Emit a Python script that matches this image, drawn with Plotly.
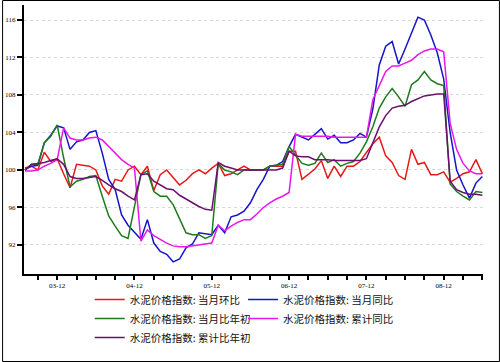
import plotly.graph_objects as go

MONTHS = [
    "03-07", "03-08", "03-09", "03-10", "03-11", "03-12",
    "04-01", "04-02", "04-03", "04-04", "04-05", "04-06", "04-07", "04-08", "04-09", "04-10", "04-11", "04-12",
    "05-01", "05-02", "05-03", "05-04", "05-05", "05-06", "05-07", "05-08", "05-09", "05-10", "05-11", "05-12",
    "06-01", "06-02", "06-03", "06-04", "06-05", "06-06", "06-07", "06-08", "06-09", "06-10", "06-11", "06-12",
    "07-01", "07-02", "07-03", "07-04", "07-05", "07-06", "07-07", "07-08", "07-09", "07-10", "07-11", "07-12",
    "08-01", "08-02", "08-03", "08-04", "08-05", "08-06", "08-07", "08-08", "08-09", "08-10", "08-11", "08-12",
    "09-01", "09-02", "09-03", "09-04", "09-05", "09-06",
]

SERIES_NAMES = [
    "水泥价格指数: 当月环比",
    "水泥价格指数: 当月同比",
    "水泥价格指数: 当月比年初",
    "水泥价格指数: 累计同比",
    "水泥价格指数: 累计比年初",
]

MOM = [100.2, 100.4, 100.0, 101.9, 100.9, 101.2, 99.6, 98.1, 100.6, 100.5, 100.4, 100.0,
       98.3, 97.4, 99.0, 98.8, 100.0, 100.4, 99.5, 100.4, 97.8, 99.5, 100.0, 99.2,
       98.4, 98.9, 99.6, 100.0, 99.6, 100.2, 100.7, 99.4, 99.6, 100.0, 100.4, 100.0,
       100.0, 100.0, 100.4, 100.4, 100.4, 102.0, 102.0, 99.0, 99.6, 100.1, 101.0, 99.1,
       100.4, 99.3, 100.4, 100.4, 100.9, 101.9, 102.8, 103.5, 101.5, 100.8, 99.4, 99.0,
       102.2, 100.6, 100.8, 99.5, 99.5, 99.8, 98.7, 99.1, 99.6, 99.8, 101.1, 99.6]

YOY = [100.0, 100.4, 100.5, 102.9, 103.7, 104.7, 104.5, 102.2, 103.0, 103.2, 104.0, 104.2,
       101.8, 99.0, 97.9, 95.2, 94.1, 93.4, 92.6, 94.7, 92.2, 91.3, 91.0, 90.2,
       90.5, 91.7, 92.1, 93.3, 93.2, 93.1, 94.1, 93.3, 95.0, 95.2, 95.6, 96.5,
       97.9, 99.0, 100.4, 100.5, 100.9, 102.5, 103.8, 103.5, 103.2, 103.8, 104.4, 103.3,
       103.7, 102.9, 102.9, 103.2, 103.9, 103.5, 106.5, 111.2, 113.2, 113.7, 111.3, 112.9,
       114.6, 116.3, 116.0, 114.4, 112.5, 109.7, 104.0, 100.0, 98.4, 97.0, 98.6, 99.3]

MTD = [100.0, 100.6, 100.6, 102.9, 103.6, 104.8, 101.3, 98.2, 98.8, 99.0, 99.3, 99.4,
       97.2, 95.1, 94.0, 93.0, 92.7, 96.3, 99.5, 99.9, 97.7, 97.2, 97.2, 96.3,
       94.7, 93.3, 93.1, 93.1, 92.7, 93.0, 100.7, 100.0, 99.8, 99.5, 100.0, 100.0,
       100.0, 100.0, 100.4, 100.5, 100.6, 102.5, 101.6, 100.7, 100.5, 100.7, 101.8, 100.8,
       101.1, 100.4, 100.7, 100.9, 101.8, 103.0, 104.6, 106.6, 107.8, 108.7, 107.8, 106.8,
       109.1, 109.6, 110.5, 109.6, 109.2, 109.0, 98.5, 97.7, 97.2, 96.8, 97.7, 97.6]

CUM_YOY = [99.9, 99.9, 100.0, 100.4, 100.7, 101.1, 104.5, 103.4, 103.2, 103.2, 103.4, 103.5,
           103.2, 102.5, 101.8, 101.1, 100.6, 100.2, 92.4, 93.6, 93.0, 92.6, 92.2, 91.9,
           91.8, 91.8, 91.9, 92.0, 92.1, 92.2, 94.1, 93.5, 94.0, 94.4, 94.7, 94.7,
           95.3, 96.0, 96.5, 96.9, 97.2, 97.6, 103.8, 103.6, 103.6, 103.6, 103.6, 103.6,
           103.5, 103.5, 103.5, 103.5, 103.5, 103.5, 107.5, 109.1, 110.5, 111.1, 111.1, 111.4,
           111.7, 112.3, 112.7, 112.9, 112.9, 112.6, 105.0, 102.2, 100.7, 99.9, 99.6, 99.6]

CUM_YTD = [100.0, 100.6, 100.7, 100.8, 101.0, 101.2, 100.6, 99.3, 99.1, 99.1, 99.2, 99.3,
           98.9, 98.4, 98.0, 97.7, 97.2, 96.8, 99.5, 99.6, 98.8, 98.4, 98.0, 97.9,
           97.3, 96.9, 96.5, 96.1, 95.8, 95.7, 100.8, 100.4, 100.2, 100.0, 100.0, 100.0,
           100.0, 100.0, 100.0, 100.0, 100.2, 102.0, 101.5, 101.4, 101.4, 101.1, 101.1, 101.1,
           101.0, 101.0, 101.0, 101.0, 101.0, 101.2, 103.0, 104.6, 105.8, 106.6, 106.8, 106.9,
           107.3, 107.6, 107.9, 108.0, 108.1, 108.1, 98.8, 97.9, 97.6, 97.4, 97.4, 97.3]

Y_TICKS = [92, 96, 100, 104, 108, 112, 116]
X_TICKS = MONTHS[2::3]
X_LABELS = [m if m.endswith("-12") else "" for m in X_TICKS]

COLORS = ["#e81818", "#1515c8", "#1f7a1f", "#e818e8", "#6a1070"]
SERIES = [MOM, YOY, MTD, CUM_YOY, CUM_YTD]
LEGEND_OF = ["legend", "legend2", "legend", "legend2", "legend"]

fig = go.Figure()
for name, vals, col, lg in zip(SERIES_NAMES, SERIES, COLORS, LEGEND_OF):
    fig.add_trace(go.Scatter(x=MONTHS, y=vals, mode="lines", name=name,
                             legend=lg, line=dict(color=col, width=1.5)))

W, H = 500, 362
ML, MR, MT, MB = 22, 17, 5, 88
pw, ph = W - ML - MR, H - MT - MB
leg_font = dict(size=10.5, family="Noto Sans CJK SC", color="#111")
leg_y = -(285 - (H - MB)) / ph

fig.update_layout(
    width=W, height=H,
    margin=dict(l=ML, r=MR, t=MT, b=MB),
    paper_bgcolor="white", plot_bgcolor="white",
    font=dict(family="Noto Sans CJK SC", color="black"),
    showlegend=True,
    legend=dict(orientation="v", x=(88 - ML) / pw, xanchor="left",
                y=leg_y, yanchor="top", font=leg_font,
                bgcolor="rgba(0,0,0,0)", tracegroupgap=0, itemwidth=30),
    legend2=dict(orientation="v", x=(242 - ML) / pw, xanchor="left",
                 y=leg_y, yanchor="top", font=leg_font,
                 bgcolor="rgba(0,0,0,0)", tracegroupgap=0, itemwidth=30),
    xaxis=dict(type="category", range=[-0.15, 71.1],
               tickmode="array", tickvals=X_TICKS, ticktext=X_LABELS,
               ticks="outside", ticklen=4, tickwidth=1.5, tickcolor="black",
               showline=True, linecolor="black", linewidth=2,
               showgrid=False, zeroline=False,
               tickfont=dict(size=7, family="Liberation Serif", color="black")),
    yaxis=dict(range=[88.9, 117.6], tickmode="array", tickvals=Y_TICKS,
               ticks="outside", ticklen=5, tickwidth=2, tickcolor="black",
               showline=True, linecolor="black", linewidth=2,
               showgrid=True, gridcolor="#d8d8d8", gridwidth=1, griddash="dot",
               zeroline=False,
               tickfont=dict(size=7, family="Liberation Serif", color="black")),
    shapes=[dict(type="rect", xref="paper", yref="paper",
                 x0=-(ML - 0.5) / pw, x1=1 + (MR - 0.5) / pw,
                 y0=-(MB - 0.5) / ph, y1=1 + (MT - 0.5) / ph,
                 line=dict(color="black", width=1), fillcolor="rgba(0,0,0,0)",
                 layer="below")],
)

fig.write_html("out.html", config={"displayModeBar": False},
               post_script="document.body.style.margin='0';document.body.style.padding='0';")
